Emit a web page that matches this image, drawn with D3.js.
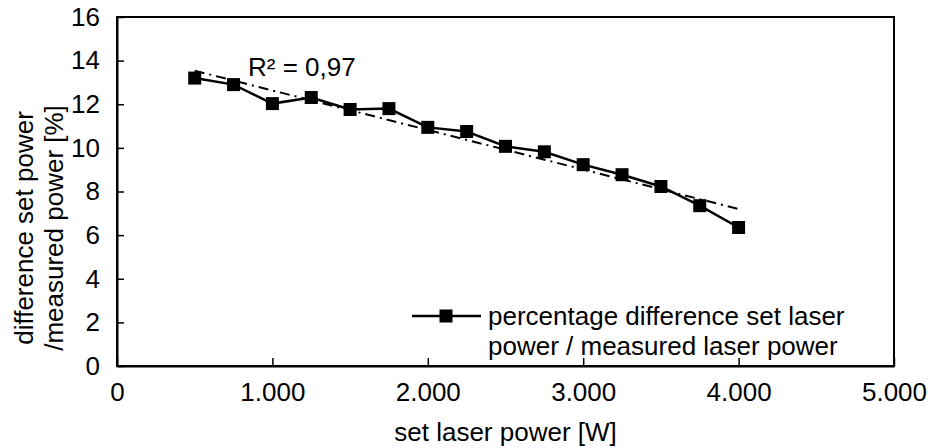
<!DOCTYPE html>
<html>
<head>
<meta charset="utf-8">
<script src="https://cdn.jsdelivr.net/npm/d3@7"></script>
<style>
  html, body { margin: 0; padding: 0; background: #fff; }
  svg { display: block; font-family: "Liberation Sans", Arial, sans-serif; }
</style>
</head>
<body>
<svg id="chart" width="930" height="448"></svg>
<script>
// ---- data ----
const setPower = [500, 750, 1000, 1250, 1500, 1750, 2000, 2250, 2500, 2750, 3000, 3250, 3500, 3750, 4000];
const pctDiff  = [13.2, 12.9, 12.03, 12.31, 11.76, 11.8, 10.94, 10.75, 10.07, 9.82, 9.23, 8.77, 8.23, 7.35, 6.35];
const xTicks = [0, 1000, 2000, 3000, 4000, 5000];
const yTicks = [0, 2, 4, 6, 8, 10, 12, 14, 16];
const seriesName = ["percentage difference set laser", "power / measured laser power"];
const xTitle = "set laser power [W]";
const yTitle = ["difference set power", "/measured power [%]"];
const r2Label = "R\u00B2 = 0,97";

// ---- layout ----
const svg = d3.select("#chart");
const L = 117, R = 894, T = 17, B = 366;
const FS = 26;
const x = d3.scaleLinear().domain([0, 5000]).range([L, R]);
const y = d3.scaleLinear().domain([0, 16]).range([B, T]);
const loc = d3.formatLocale({decimal: ",", thousands: ".", grouping: [3], currency: ["", ""]});
const fmt = loc.format(",");

// frame
svg.append("rect").attr("x", L).attr("y", T).attr("width", R - L).attr("height", B - T)
  .attr("fill", "none").attr("stroke", "#000").attr("stroke-width", 2);

// axes (inward ticks)
const xAxis = svg.append("g").attr("transform", `translate(0,${B})`)
  .call(d3.axisBottom(x).tickValues(xTicks).tickFormat(fmt).tickSizeInner(-8).tickSizeOuter(0).tickPadding(17));
const yAxis = svg.append("g").attr("transform", `translate(${L},0)`)
  .call(d3.axisLeft(y).tickValues(yTicks).tickSizeInner(-7).tickSizeOuter(0).tickPadding(17));
[xAxis, yAxis].forEach(g => {
  g.select(".domain").attr("stroke", "#000").attr("stroke-width", 2);
  g.selectAll(".tick line").attr("stroke", "#000").attr("stroke-width", 1.5);
  g.selectAll(".tick text").attr("font-size", FS).attr("fill", "#000")
    .attr("font-family", "'Liberation Sans', Arial, sans-serif");
});

// axis titles
svg.append("text").attr("x", (L + R) / 2).attr("y", 441).attr("text-anchor", "middle")
  .attr("font-size", FS).text(xTitle);
yTitle.forEach((t, i) => {
  svg.append("text").attr("transform", `translate(${33 + i * 30},228) rotate(-90)`)
    .attr("text-anchor", "middle").attr("font-size", FS).text(t);
});

// linear trend line (least squares)
const mx = d3.mean(setPower), my = d3.mean(pctDiff);
const slope = d3.sum(setPower, (v, i) => (v - mx) * (pctDiff[i] - my)) / d3.sum(setPower, v => (v - mx) ** 2);
const icpt = my - slope * mx;
const trendPts = [setPower[0], setPower[setPower.length - 1]].map(v => [v, icpt + slope * v]);
svg.append("path").datum(trendPts)
  .attr("d", d3.line().x(d => x(d[0])).y(d => y(d[1])))
  .attr("fill", "none").attr("stroke", "#000").attr("stroke-width", 2)
  .attr("stroke-dasharray", "10,5,2,5");

// series
const pts = setPower.map((v, i) => [v, pctDiff[i]]);
svg.append("path").datum(pts)
  .attr("d", d3.line().x(d => x(d[0])).y(d => y(d[1])))
  .attr("fill", "none").attr("stroke", "#000").attr("stroke-width", 2.5);
const MS = 13;
svg.selectAll("rect.mk").data(pts).enter().append("rect").attr("class", "mk")
  .attr("x", d => x(d[0]) - MS / 2).attr("y", d => y(d[1]) - MS / 2)
  .attr("width", MS).attr("height", MS).attr("fill", "#000");

// R² label
svg.append("text").attr("x", 248).attr("y", 76).attr("font-size", FS).text(r2Label);

// legend
const lg = svg.append("g");
lg.append("line").attr("x1", 412).attr("x2", 481).attr("y1", 316).attr("y2", 316)
  .attr("stroke", "#000").attr("stroke-width", 2.5);
lg.append("rect").attr("x", 446 - MS / 2).attr("y", 316 - MS / 2).attr("width", MS).attr("height", MS).attr("fill", "#000");
seriesName.forEach((t, i) => {
  lg.append("text").attr("x", 488).attr("y", 325 + i * 30).attr("font-size", FS).text(t);
});
</script>
</body>
</html>
